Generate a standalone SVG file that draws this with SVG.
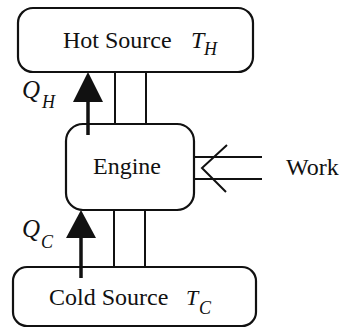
<svg xmlns="http://www.w3.org/2000/svg" width="342" height="330" viewBox="0 0 342 330">
<style>
.box{fill:#fff;stroke:#111;stroke-width:2.2}
.ln{stroke:#111;stroke-width:2;fill:none}
.t{font-family:"Liberation Serif","Times New Roman",serif;font-size:24px;fill:#111}
.i{font-family:"Liberation Serif","Times New Roman",serif;font-style:italic;fill:#111}
</style>
<rect width="342" height="330" fill="#fff"/>
<g id="connectors">
<line class="ln" x1="115" y1="72" x2="115" y2="124"/>
<line class="ln" x1="146" y1="72" x2="146" y2="124"/>
<line class="ln" x1="114" y1="210" x2="114" y2="267"/>
<line class="ln" x1="145" y1="210" x2="145" y2="267"/>
<line class="ln" x1="194" y1="157" x2="262" y2="157"/>
<line class="ln" x1="194" y1="179" x2="262" y2="179"/>
<polyline class="ln" points="227,145 202,168 226,192"/>
</g>
<g id="hot">
<rect class="box" x="18" y="8" width="235" height="64" rx="15"/>
<text class="t" x="63" y="48">Hot Source</text>
<text class="i" x="191" y="48" font-size="24">T</text>
<text class="i" x="204" y="55" font-size="18">H</text>
</g>
<g id="engine">
<rect class="box" x="66" y="124" width="128" height="86" rx="17"/>
<text class="t" x="93" y="174">Engine</text>
</g>
<g id="cold">
<rect class="box" x="13" y="267" width="243" height="59" rx="14"/>
<text class="t" x="49" y="305" font-size="25">Cold Source</text>
<text class="i" x="186" y="305" font-size="22">T</text>
<text class="i" x="199" y="314" font-size="18">C</text>
</g>
<g id="heat-arrows">
<line x1="88" y1="135" x2="88" y2="98" stroke="#111" stroke-width="3.5"/>
<polygon points="88,72 73,102 103,102" fill="#111"/>
<line x1="81" y1="278" x2="81" y2="234" stroke="#111" stroke-width="3.5"/>
<polygon points="81,210 66,238 96,238" fill="#111"/>
</g>
<g id="labels">
<text class="i" x="22" y="98" font-size="25">Q</text>
<text class="i" x="42" y="108" font-size="18">H</text>
<text class="i" x="22" y="237" font-size="25">Q</text>
<text class="i" x="41" y="248" font-size="18">C</text>
<text class="t" x="286" y="175">Work</text>
</g>
</svg>
